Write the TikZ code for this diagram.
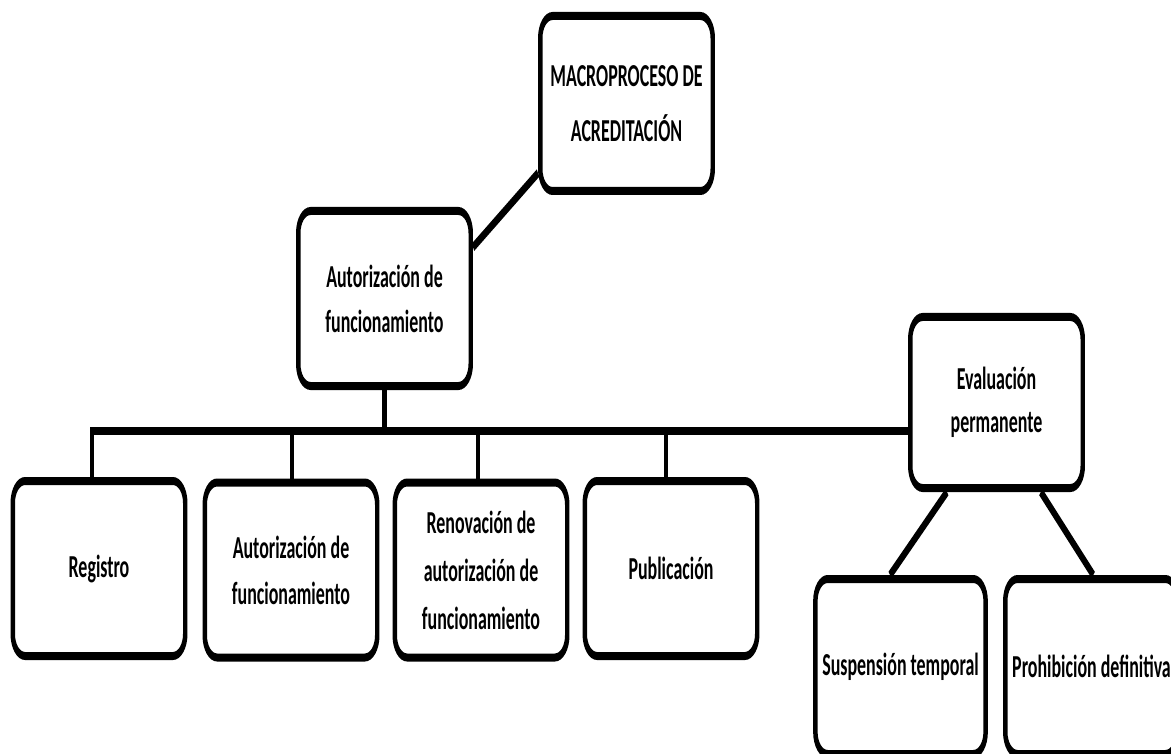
\documentclass[tikz,border=0pt]{standalone}
\usepackage{fontspec}
\newfontfamily\boxfamily{Carlito}
\usetikzlibrary{calc}
\begin{document}
\begin{tikzpicture}[x=1pt,y=-1pt]
\useasboundingbox (0,0) rectangle (1171,754);
\fill[white] (0,0) rectangle (1171,754);
\begin{scope}
\clip (0,0) rectangle (1171,754);
\begin{scope}[transform canvas={xscale=0.56}, x=1.785714pt, y=-1pt,
  box/.style={draw, fill=white, line width=8pt, rounded corners=22pt,
    minimum width=308pt, minimum height=175pt, inner sep=0pt, align=center,
    font=\boxfamily\bfseries\fontsize{32}{46}\selectfont},
  conn/.style={draw, line width=8.5pt}]
  % nodes
  \node[box, font=\boxfamily\bfseries\fontsize{32}{55}\selectfont] (macro) at (626.5,103.5) {MACROPROCESO DE\\ACREDITACIÓN};
  \node[box, font=\boxfamily\bfseries\fontsize{32}{45}\selectfont] (auth) at (384.5,298.5) {Autorización de\\funcionamiento};
  \node[box] (reg) at (99,568.5) {Registro};
  \node[box] (aut2) at (291,570) {Autorización de\\funcionamiento};
  \node[box, font=\boxfamily\bfseries\fontsize{32}{48}\selectfont] (ren) at (481,570) {Renovación de\\autorización de\\funcionamiento};
  \node[box] (pub) at (671,568.5) {Publicación};
  \node[box, minimum height=171pt, font=\boxfamily\bfseries\fontsize{32}{43}\selectfont] (eval) at (996.5,402.5) {Evaluación\\permanente};
  \node[box, minimum width=304pt] (susp) at (900.5,666.5) {Suspensión temporal};
  \node[box] (proh) at (1091.5,666.5) {Prohibición definitiva};
  % bus coordinates
  \coordinate (b1) at (92,431);
  \coordinate (b2) at (292,431);
  \coordinate (b3) at (478,431);
  \coordinate (b4) at (666,431);
  % connectors
  \draw[conn] ($(auth.north east)!0.22!(auth.south east)$) -- ($(macro.north west)!0.88!(macro.south west)$);
  \draw[conn] (auth.south) -- (auth.south |- b1);
  \draw[conn] (b1 |- reg.north) -- (b1) -- (b1 -| eval.west);
  \draw[conn] (b2) -- (b2 |- aut2.north);
  \draw[conn] (b3) -- (b3 |- ren.north);
  \draw[conn] (b4) -- (b4 |- pub.north);
  \draw[conn] ($(eval.south west)!0.22!(eval.south east)$) -- ($(susp.north west)!0.44!(susp.north east)$);
  \draw[conn] ($(eval.south west)!0.75!(eval.south east)$) -- ($(proh.north west)!0.51!(proh.north east)$);
\end{scope}
\end{scope}
\end{tikzpicture}
\end{document}
